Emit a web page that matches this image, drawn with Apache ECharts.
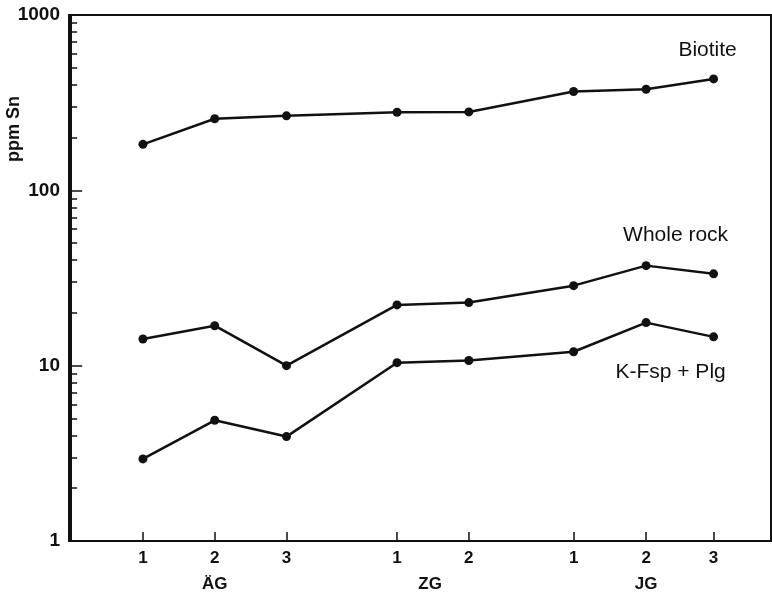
<!DOCTYPE html>
<html>
<head>
<meta charset="utf-8">
<script src="https://cdn.jsdelivr.net/npm/echarts@6/dist/echarts.min.js"></script>
<style>
  html, body { margin: 0; padding: 0; background: #fff; }
  #chart { width: 772px; height: 596px; }
</style>
</head>
<body>
<div id="chart"></div>
<script>
// Sample positions along the x axis (three granite groups, samples numbered within each group)
const samplePos = [1, 2, 3, 4.54, 5.54, 7.0, 8.01, 8.95];
const sampleLabels = ['1', '2', '3', '1', '2', '1', '2', '3'];
const groupPos = [2, 5.0, 8.01];
const groupLabels = ['ÄG', 'ZG', 'JG'];

// Sn contents (ppm)
const biotite = [183, 256, 266, 279, 280, 366, 377, 432];
const wholeRock = [14.2, 16.9, 10.0, 22.2, 22.9, 28.6, 37.2, 33.4];
const kfspPlg = [2.94, 4.88, 3.94, 10.4, 10.7, 12.0, 17.6, 14.6];

const seriesNames = ['Biotite', 'Whole rock', 'K-Fsp + Plg'];

// Intermediate log ticks (2..9 of each decade)
const minorTickValues = [2, 3, 4, 5, 6, 7, 8, 9, 20, 30, 40, 50, 60, 70, 80, 90, 200, 300, 400, 500, 600, 700, 800, 900];

const INK = '#111';
const FONT = '"Liberation Sans", Arial, Helvetica, sans-serif';

function pairs(values, labelCfg) {
  return values.map((v, i) => {
    const item = { value: [samplePos[i], v] };
    if (i === values.length - 1) item.label = labelCfg;
    return item;
  });
}

function endLabel(text, offset) {
  return {
    show: true,
    position: 'inside',
    offset: offset,
    formatter: text,
    color: INK,
    fontFamily: FONT,
    fontSize: 21,
    fontWeight: 'normal'
  };
}

function lineSeries(name, values, labelCfg) {
  return {
    name: name,
    type: 'line',
    xAxisIndex: 0,
    yAxisIndex: 0,
    data: pairs(values, labelCfg),
    symbol: 'circle',
    symbolSize: 9,
    lineStyle: { color: INK, width: 2.5 },
    itemStyle: { color: INK },
    emphasis: { disabled: true },
    silent: true,
    animation: false,
    z: 5
  };
}

const chart = echarts.init(document.getElementById('chart'), null, { renderer: 'canvas' });

chart.setOption({
  backgroundColor: '#fff',
  animation: false,
  grid: {
    left: 69, top: 15, right: 1, bottom: 55,
    show: true, borderColor: INK, borderWidth: 2, backgroundColor: 'transparent'
  },
  xAxis: [
    {
      type: 'value', min: -0.03, max: 9.75, position: 'bottom',
      axisLine: { show: true, lineStyle: { color: INK, width: 2 } },
      axisTick: { show: true, inside: true, length: 9, customValues: samplePos, lineStyle: { color: INK, width: 1.5 } },
      axisLabel: {
        show: true, customValues: samplePos, margin: 9,
        color: INK, fontFamily: FONT, fontSize: 17, fontWeight: 'bold',
        formatter: v => {
          const i = samplePos.findIndex(p => Math.abs(p - v) < 1e-6);
          return i >= 0 ? sampleLabels[i] : '';
        }
      },
      splitLine: { show: false }
    },
    {
      type: 'value', min: -0.03, max: 9.75, position: 'bottom', offset: 25,
      axisLine: { show: false }, axisTick: { show: false },
      axisLabel: {
        show: true, customValues: groupPos, margin: 10,
        color: INK, fontFamily: FONT, fontSize: 17, fontWeight: 'bold',
        formatter: v => {
          const i = groupPos.findIndex(p => Math.abs(p - v) < 1e-6);
          return i >= 0 ? groupLabels[i] : '';
        }
      },
      splitLine: { show: false }
    }
  ],
  yAxis: [
    {
      type: 'log', logBase: 10, min: 1, max: 1000, position: 'left',
      axisLine: { show: true, lineStyle: { color: INK, width: 2 } },
      axisTick: { show: true, inside: true, length: 11, lineStyle: { color: INK, width: 1.5 } },
      axisLabel: {
        show: true, margin: 9, color: INK, fontFamily: FONT, fontSize: 19, fontWeight: 'bold',
        formatter: v => String(Math.round(v))
      },
      splitLine: { show: false },
      minorTick: { show: false }
    },
    {
      // linear log10 scale used only to place the intermediate ticks
      type: 'value', min: 0, max: 3, position: 'left',
      axisLine: { show: false },
      axisTick: { show: true, inside: true, length: 6, customValues: minorTickValues.map(v => Math.log10(v)), lineStyle: { color: INK, width: 1.5 } },
      axisLabel: { show: false },
      splitLine: { show: false }
    }
  ],
  graphic: [
    {
      type: 'text', left: 5, top: 96, rotation: Math.PI / 2,
      style: { text: 'ppm Sn', fill: INK, font: 'bold 18px ' + FONT }
    }
  ],
  series: [
    lineSeries(seriesNames[0], biotite, endLabel(seriesNames[0], [-6, -29])),
    lineSeries(seriesNames[1], wholeRock, endLabel(seriesNames[1], [-38, -39])),
    lineSeries(seriesNames[2], kfspPlg, endLabel(seriesNames[2], [-43, 35]))
  ]
});
</script>
</body>
</html>
